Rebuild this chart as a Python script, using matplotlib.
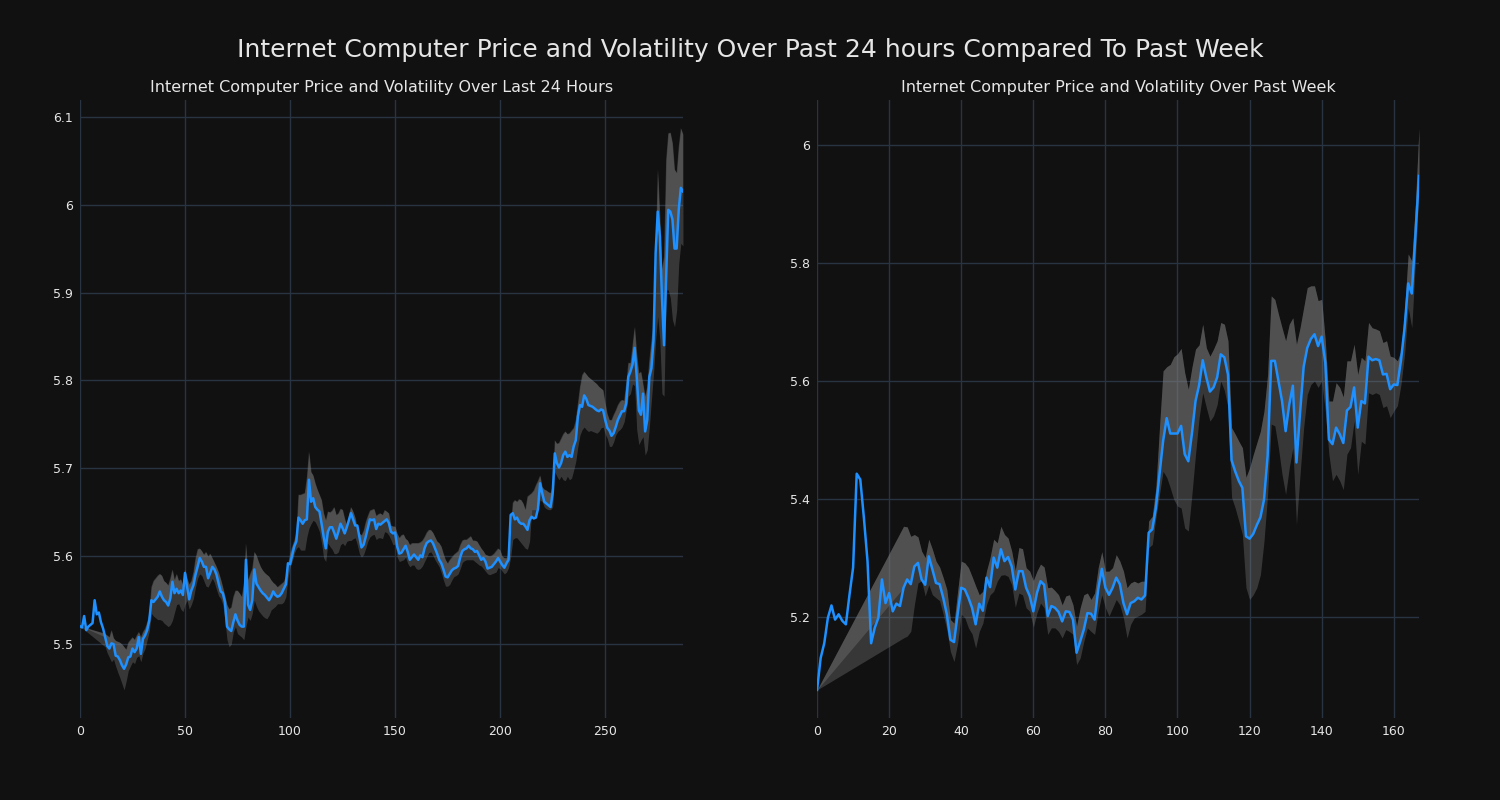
import numpy as np
import matplotlib
matplotlib.use("Agg")
import matplotlib.pyplot as plt
from matplotlib.ticker import FuncFormatter

# ---------------- data ----------------
suptitle = "Internet Computer Price and Volatility Over Past 24 hours Compared To Past Week"
title_day = "Internet Computer Price and Volatility Over Last 24 Hours"
title_week = "Internet Computer Price and Volatility Over Past Week"

day_price = [
    5.5205, 5.519, 5.532, 5.516, 5.52, 5.522, 5.524, 5.55, 5.534, 5.536,
    5.525, 5.518, 5.508, 5.498, 5.495, 5.501, 5.5, 5.487, 5.486, 5.482,
    5.476, 5.472, 5.477, 5.485, 5.486, 5.495, 5.491, 5.495, 5.508, 5.489,
    5.506, 5.51, 5.516, 5.527, 5.55, 5.548, 5.551, 5.554, 5.56, 5.554,
    5.55, 5.548, 5.544, 5.552, 5.571, 5.558, 5.563, 5.558, 5.561, 5.556,
    5.581, 5.565, 5.551, 5.561, 5.567, 5.579, 5.588, 5.598, 5.594, 5.588,
    5.588, 5.575, 5.581, 5.588, 5.585, 5.579, 5.569, 5.56, 5.558, 5.548,
    5.52, 5.517, 5.515, 5.525, 5.534, 5.527, 5.522, 5.52, 5.52, 5.596,
    5.545, 5.539, 5.55, 5.585, 5.569, 5.565, 5.561, 5.558, 5.556, 5.553,
    5.55, 5.554, 5.56, 5.556, 5.554, 5.555, 5.558, 5.563, 5.568, 5.592,
    5.591, 5.601, 5.611, 5.617, 5.644, 5.641, 5.637, 5.641, 5.642, 5.687,
    5.662, 5.666, 5.656, 5.653, 5.651, 5.637, 5.622, 5.609, 5.628, 5.633,
    5.633, 5.627, 5.62, 5.628, 5.637, 5.632, 5.626, 5.633, 5.641, 5.649,
    5.642, 5.635, 5.635, 5.622, 5.61, 5.613, 5.622, 5.632, 5.642, 5.641,
    5.642, 5.631, 5.637, 5.636, 5.638, 5.64, 5.642, 5.638, 5.628, 5.626,
    5.627, 5.611, 5.603, 5.604, 5.608, 5.612, 5.605, 5.596, 5.599, 5.602,
    5.599, 5.596, 5.601, 5.599, 5.609, 5.615, 5.617, 5.618, 5.615, 5.609,
    5.603, 5.596, 5.592, 5.585, 5.577, 5.576, 5.58, 5.584, 5.586, 5.587,
    5.589, 5.599, 5.606, 5.608, 5.609, 5.612, 5.609, 5.608, 5.605, 5.606,
    5.601, 5.596, 5.598, 5.594, 5.586, 5.587, 5.588, 5.591, 5.594, 5.598,
    5.594, 5.59, 5.587, 5.592, 5.596, 5.647, 5.649, 5.642, 5.644, 5.639,
    5.637, 5.637, 5.634, 5.63, 5.641, 5.645, 5.643, 5.644, 5.654, 5.683,
    5.672, 5.662, 5.66, 5.658, 5.656, 5.672, 5.717, 5.706, 5.701, 5.706,
    5.715, 5.719, 5.713, 5.715, 5.713, 5.725, 5.732, 5.759, 5.772, 5.77,
    5.783, 5.779, 5.772, 5.771, 5.77, 5.768, 5.766, 5.765, 5.767, 5.766,
    5.755, 5.746, 5.743, 5.737, 5.74, 5.747, 5.755, 5.76, 5.765, 5.765,
    5.774, 5.804, 5.81, 5.818, 5.837, 5.804, 5.766, 5.761, 5.785, 5.742,
    5.755, 5.804, 5.814, 5.846, 5.945, 5.992, 5.964, 5.895, 5.84, 5.918,
    5.994, 5.992, 5.983, 5.95, 5.95, 5.994, 6.019, 6.015,
]

# volatility band edges (None where the rolling window is not yet filled;
# the first point equals the price)
day_upper = [5.5205] + [None] * 11 + [
    5.512, 5.51, 5.508, 5.516, 5.507, 5.504, 5.503, 5.502,
    5.5, 5.497, 5.494, 5.502, 5.505, 5.508, 5.505, 5.51, 5.514, 5.508,
    5.514, 5.518, 5.525, 5.535, 5.565, 5.572, 5.575, 5.578, 5.58, 5.578,
    5.572, 5.57, 5.567, 5.575, 5.585, 5.573, 5.58, 5.572, 5.574, 5.567,
    5.585, 5.575, 5.568, 5.572, 5.582, 5.598, 5.608, 5.609, 5.606, 5.602,
    5.605, 5.6, 5.603, 5.598, 5.593, 5.588, 5.582, 5.574, 5.565, 5.555,
    5.545, 5.54, 5.542,
    5.554, 5.561, 5.561, 5.558, 5.554, 5.569, 5.615, 5.573, 5.58, 5.586,
    5.605, 5.601, 5.594, 5.588, 5.584, 5.581, 5.579, 5.577, 5.573, 5.57,
    5.568, 5.565, 5.567, 5.569, 5.571, 5.577, 5.59, 5.603, 5.611, 5.618,
    5.626, 5.67, 5.67, 5.671, 5.672, 5.69, 5.719, 5.696, 5.692, 5.683,
    5.676, 5.67, 5.664, 5.649, 5.641, 5.651, 5.65, 5.652, 5.656, 5.647,
    5.649, 5.654, 5.653, 5.643, 5.635, 5.647, 5.656, 5.651, 5.644, 5.632,
    5.626, 5.624, 5.629, 5.639, 5.646, 5.652, 5.653, 5.654, 5.646, 5.648,
    5.649, 5.647,
    5.6526, 5.651, 5.649, 5.635, 5.634, 5.634, 5.626, 5.621, 5.624, 5.625,
    5.62, 5.618, 5.613, 5.615, 5.615, 5.615, 5.615, 5.616, 5.618, 5.622,
    5.627, 5.63, 5.63, 5.627, 5.622, 5.617, 5.615, 5.611, 5.603, 5.596,
    5.592, 5.596, 5.599, 5.602, 5.604, 5.606, 5.613, 5.618, 5.619, 5.619,
    5.621, 5.623, 5.618, 5.618, 5.617, 5.613, 5.609, 5.606, 5.602, 5.601,
    5.6, 5.601, 5.603, 5.606, 5.609, 5.607, 5.6, 5.598, 5.598, 5.601,
    5.63, 5.661, 5.664, 5.662, 5.665, 5.664, 5.66, 5.653, 5.668, 5.67,
    5.672, 5.675, 5.681, 5.686, 5.692, 5.679, 5.676, 5.675, 5.673, 5.672,
    5.679, 5.732, 5.728, 5.729, 5.734, 5.739, 5.742, 5.739, 5.74, 5.743,
    5.746, 5.755, 5.774, 5.793, 5.806, 5.81, 5.807, 5.804, 5.802, 5.8,
    5.798, 5.796, 5.793, 5.791, 5.789, 5.774, 5.762, 5.755, 5.755, 5.761,
    5.766, 5.772, 5.776, 5.778, 5.777, 5.797, 5.82, 5.82, 5.84, 5.861,
    5.831, 5.808, 5.81, 5.796, 5.782, 5.793, 5.823, 5.846, 5.865, 5.941,
    6.04, 5.987, 5.926, 5.941, 6.051, 6.081, 6.082, 6.07, 6.04, 6.036,
    6.066, 6.087, 6.08,
]

day_lower = [5.5205] + [None] * 11 + [
    5.497, 5.49, 5.485, 5.48, 5.483, 5.475, 5.468, 5.462,
    5.455, 5.448, 5.458, 5.47, 5.475, 5.48, 5.478, 5.485, 5.487, 5.48,
    5.49, 5.495, 5.505, 5.515, 5.535, 5.532, 5.53, 5.528, 5.528, 5.527,
    5.524, 5.522, 5.52, 5.522, 5.527, 5.536, 5.545, 5.546, 5.54, 5.537,
    5.545, 5.55, 5.54, 5.545, 5.552, 5.565, 5.575, 5.58, 5.578, 5.572,
    5.566, 5.565, 5.57, 5.575, 5.57, 5.562, 5.555, 5.552, 5.545, 5.527,
    5.505, 5.497, 5.5,
    5.514, 5.52, 5.512, 5.51, 5.508, 5.505, 5.52, 5.531, 5.527, 5.535,
    5.55, 5.543, 5.538, 5.535, 5.532, 5.53, 5.529, 5.533, 5.539, 5.541,
    5.543, 5.546, 5.546, 5.546, 5.548, 5.554, 5.575, 5.588, 5.594, 5.603,
    5.609, 5.611, 5.607, 5.607, 5.607, 5.622, 5.632, 5.637, 5.641, 5.639,
    5.634, 5.628, 5.615, 5.598, 5.594, 5.615, 5.611, 5.608, 5.603, 5.603,
    5.605, 5.613, 5.615, 5.612, 5.617, 5.618, 5.618, 5.62, 5.621, 5.613,
    5.603, 5.599, 5.602, 5.609, 5.617, 5.622, 5.624, 5.625, 5.619, 5.621,
    5.621, 5.62,
    5.628, 5.627, 5.624, 5.619, 5.613, 5.614, 5.599, 5.594, 5.595, 5.596,
    5.599, 5.592, 5.588, 5.59, 5.59, 5.586, 5.585, 5.586, 5.589, 5.594,
    5.599, 5.604, 5.605, 5.601, 5.596, 5.592, 5.588, 5.581, 5.573, 5.566,
    5.566, 5.568, 5.573, 5.577, 5.578, 5.58, 5.586, 5.593, 5.595, 5.596,
    5.596, 5.596, 5.596, 5.594, 5.592, 5.59, 5.589, 5.586, 5.583, 5.58,
    5.579, 5.58, 5.581, 5.582, 5.587, 5.586, 5.583, 5.58, 5.582, 5.587,
    5.599, 5.619, 5.621, 5.621, 5.618, 5.615, 5.612, 5.609, 5.608, 5.617,
    5.653, 5.653, 5.653, 5.654, 5.664, 5.662, 5.656, 5.654, 5.653, 5.653,
    5.656, 5.696, 5.691, 5.687, 5.691, 5.687, 5.686, 5.691, 5.687, 5.689,
    5.698, 5.708, 5.725, 5.738, 5.744, 5.747, 5.744, 5.742, 5.743, 5.742,
    5.741, 5.74, 5.742, 5.746, 5.747, 5.739, 5.734, 5.725, 5.725, 5.73,
    5.738, 5.742, 5.744, 5.747, 5.753, 5.766, 5.782, 5.785, 5.796, 5.794,
    5.744, 5.727, 5.732, 5.736, 5.715, 5.721, 5.747, 5.778, 5.808, 5.846,
    5.873, 5.846, 5.785, 5.782, 5.903, 5.903, 5.894, 5.869, 5.861, 5.88,
    5.933, 5.956, 5.953,
]

week_price = [
    5.077, 5.131, 5.156, 5.199, 5.22, 5.196, 5.205, 5.194, 5.188, 5.238,
    5.284, 5.443, 5.433, 5.368, 5.295, 5.156, 5.182, 5.199, 5.264, 5.224,
    5.241, 5.21, 5.223, 5.219, 5.25, 5.264, 5.256, 5.286, 5.292, 5.264,
    5.255, 5.303, 5.281, 5.258, 5.256, 5.233, 5.205, 5.162, 5.158, 5.205,
    5.25, 5.247, 5.233, 5.216, 5.188, 5.223, 5.211, 5.267, 5.251, 5.301,
    5.284, 5.315, 5.295, 5.302, 5.286, 5.247, 5.278, 5.278, 5.25, 5.236,
    5.21, 5.241, 5.261, 5.255, 5.202, 5.219, 5.216, 5.209, 5.193, 5.21,
    5.209, 5.196, 5.14, 5.159, 5.179, 5.207, 5.206, 5.196, 5.247, 5.282,
    5.25, 5.238, 5.25, 5.267, 5.256, 5.224, 5.205, 5.224, 5.227, 5.233,
    5.23, 5.237, 5.343, 5.349, 5.385, 5.442, 5.498, 5.537, 5.511, 5.511,
    5.511, 5.524, 5.476, 5.464, 5.511, 5.566, 5.593, 5.635, 5.606, 5.582,
    5.589, 5.606, 5.645, 5.64, 5.611, 5.466, 5.447, 5.431, 5.419, 5.337,
    5.333, 5.341, 5.356, 5.369, 5.399, 5.473, 5.634, 5.634, 5.6, 5.566,
    5.515, 5.56, 5.592, 5.462, 5.546, 5.624, 5.656, 5.671, 5.679, 5.659,
    5.675, 5.631, 5.501, 5.493, 5.521, 5.51, 5.495, 5.55, 5.556, 5.589,
    5.521, 5.566, 5.562, 5.641, 5.635, 5.637, 5.635, 5.611, 5.612, 5.586,
    5.594, 5.593, 5.635, 5.69, 5.765, 5.748, 5.845, 5.947,
]

week_upper = [5.077] + [None] * 23 + [
    5.354, 5.353, 5.337, 5.34, 5.336, 5.312, 5.301, 5.332, 5.315, 5.295,
    5.285, 5.267, 5.247, 5.196, 5.19, 5.244, 5.295, 5.292, 5.284, 5.269,
    5.253, 5.238, 5.244, 5.278, 5.301, 5.332, 5.326, 5.354,
    5.34, 5.334, 5.312, 5.279, 5.318, 5.316, 5.284, 5.278, 5.262, 5.278,
    5.29, 5.285, 5.25, 5.251, 5.245, 5.238, 5.221, 5.236, 5.238, 5.221,
    5.185, 5.216, 5.238, 5.241, 5.23, 5.241, 5.284, 5.311, 5.278, 5.278,
    5.284, 5.306, 5.295, 5.278, 5.25, 5.258, 5.261, 5.258, 5.261, 5.261,
    5.363, 5.371, 5.419, 5.521, 5.617, 5.624, 5.628, 5.641, 5.646, 5.655,
    5.614, 5.586, 5.623, 5.654, 5.661, 5.696, 5.656, 5.642, 5.654, 5.668,
    5.699, 5.696, 5.668, 5.521, 5.51, 5.498, 5.487, 5.437, 5.453, 5.475,
    5.495, 5.515, 5.549, 5.611, 5.744, 5.738, 5.713, 5.69, 5.668, 5.696,
    5.707, 5.662, 5.69, 5.724,
    5.758, 5.761, 5.761, 5.736, 5.738, 5.668, 5.566, 5.566, 5.597, 5.589,
    5.573, 5.634, 5.634, 5.662, 5.611, 5.64, 5.634, 5.699, 5.69, 5.688,
    5.685, 5.665, 5.668, 5.642, 5.64, 5.634, 5.651, 5.719, 5.815, 5.803,
    5.899, 6.028,
]

week_lower = [5.077] + [None] * 23 + [
    5.165, 5.168, 5.176, 5.221, 5.258, 5.262, 5.236, 5.255, 5.238, 5.233,
    5.228, 5.205, 5.179, 5.142, 5.125, 5.156, 5.205, 5.199, 5.182, 5.172,
    5.148, 5.176, 5.19, 5.221, 5.238, 5.244, 5.261, 5.271,
    5.272, 5.269, 5.255, 5.217, 5.241, 5.238, 5.216, 5.21, 5.183, 5.207,
    5.224, 5.216, 5.171, 5.182, 5.182, 5.176, 5.165, 5.179, 5.176, 5.171,
    5.12, 5.131, 5.159, 5.182, 5.176, 5.171, 5.21, 5.238, 5.216, 5.202,
    5.216, 5.23, 5.221, 5.199, 5.165, 5.188, 5.199, 5.202, 5.205, 5.21,
    5.318, 5.323, 5.368, 5.408, 5.447, 5.437, 5.419, 5.399, 5.388, 5.385,
    5.351, 5.346, 5.408, 5.476, 5.538, 5.58, 5.555, 5.532, 5.541, 5.56,
    5.6, 5.584, 5.555, 5.403, 5.385, 5.363, 5.34, 5.25, 5.23, 5.238,
    5.25, 5.272, 5.329, 5.408, 5.527, 5.524, 5.487, 5.442, 5.408, 5.453,
    5.487, 5.357, 5.442, 5.521,
    5.577, 5.594, 5.6, 5.589, 5.6, 5.549, 5.476, 5.431, 5.442, 5.431,
    5.416, 5.476, 5.487, 5.532, 5.442, 5.498, 5.493, 5.58, 5.577, 5.58,
    5.577, 5.555, 5.558, 5.538, 5.549, 5.558, 5.594, 5.645, 5.724, 5.69,
    5.803, 5.928,
]

day_xticks = [0, 50, 100, 150, 200, 250]
week_xticks = [0, 20, 40, 60, 80, 100, 120, 140, 160]
day_yticks = [5.5, 5.6, 5.7, 5.8, 5.9, 6.0, 6.1]
week_yticks = [5.2, 5.4, 5.6, 5.8, 6.0]

# ---------------- style ----------------
BG = "#111111"
GRID = "#283442"
LINE = "#1e90ff"
TXT = "#e6e6e6"

fig = plt.figure(figsize=(15, 8), dpi=100, facecolor=BG)
fig.suptitle(suptitle, color=TXT, fontsize=18, y=0.937, va="center")

ax1 = fig.add_axes([0.0533, 0.1025, 0.402, 0.7725])
ax2 = fig.add_axes([0.5447, 0.1025, 0.4013, 0.7725])


def draw(ax, price, upper, lower, title, xticks, yticks):
    price = np.asarray(price, dtype=float)
    x = np.arange(len(price))
    up = np.array([np.nan if v is None else v for v in upper], dtype=float)
    lo = np.array([np.nan if v is None else v for v in lower], dtype=float)
    m = ~np.isnan(up)
    bx, bu, bl, bp = x[m], up[m], lo[m], price[m]
    ax.set_facecolor(BG)
    ax.fill_between(bx, bl, bu, color="grey", alpha=0.35, lw=0, zorder=2)
    ax.fill_between(bx, bp, bu, where=bu >= bp, interpolate=True,
                    color="grey", alpha=0.35, lw=0, zorder=2)
    ax.plot(x, price, color=LINE, lw=1.8, zorder=3)
    ax.set_xlim(0, len(price) - 1)
    ax.margins(x=0, y=0.05)
    ax.set_xticks(xticks)
    ax.set_yticks(yticks)
    ax.yaxis.set_major_formatter(FuncFormatter(lambda v, p: f"{v:g}"))
    ax.grid(True, color=GRID, lw=1, zorder=0)
    ax.set_axisbelow(True)
    for s in ax.spines.values():
        s.set_visible(False)
    ax.tick_params(length=0, colors=TXT, labelsize=9, pad=5)
    ax.set_title(title, color=TXT, fontsize=11.5, pad=6)


draw(ax1, day_price, day_upper, day_lower, title_day, day_xticks, day_yticks)
draw(ax2, week_price, week_upper, week_lower, title_week, week_xticks, week_yticks)

fig.savefig("out.png", dpi=100, facecolor=BG)
